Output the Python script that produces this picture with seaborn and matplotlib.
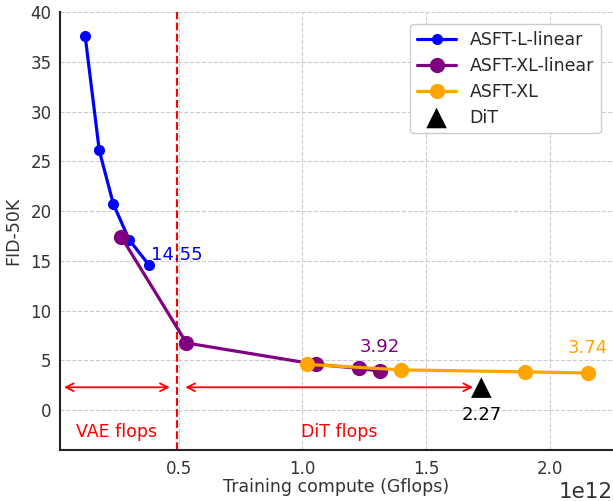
import numpy as np
import pandas as pd
import matplotlib
matplotlib.use("Agg")
import matplotlib.pyplot as plt
import seaborn as sns

# dati (x in flops, y = FID-50K)
l_lin_x = [0.123e12, 0.180e12, 0.237e12, 0.301e12, 0.382e12]
l_lin_y = [37.6, 26.1, 20.7, 17.1, 14.55]

xl_lin_x = [0.269e12, 0.532e12, 1.055e12, 1.229e12, 1.314e12]
xl_lin_y = [17.4, 6.75, 4.6, 4.2, 3.92]

xl_x = [1.018e12, 1.399e12, 1.900e12, 2.152e12]
xl_y = [4.6, 4.05, 3.85, 3.74]

dit_x = [1.722e12]
dit_y = [2.27]

vae_split = 0.495e12

sns.set_style("white")
plt.rcParams['font.family'] = ['DejaVu Sans']

fig = plt.figure(figsize=(6.13, 5.01), dpi=100)
ax = fig.add_axes([60 / 613, 51 / 501, 553 / 613, 438 / 501])

df_l = pd.DataFrame({"x": l_lin_x, "y": l_lin_y})
df_xll = pd.DataFrame({"x": xl_lin_x, "y": xl_lin_y})
df_xl = pd.DataFrame({"x": xl_x, "y": xl_y})
df_dit = pd.DataFrame({"x": dit_x, "y": dit_y})

sns.lineplot(data=df_l, x="x", y="y", ax=ax, color="blue", marker="o", markersize=8,
             markeredgewidth=0, linewidth=2.3, sort=False, label="ASFT-L-linear", zorder=3)
sns.lineplot(data=df_xll, x="x", y="y", ax=ax, color="purple", marker="o", markersize=11,
             markeredgewidth=0, linewidth=2.3, sort=False, label="ASFT-XL-linear", zorder=3)
sns.lineplot(data=df_xl, x="x", y="y", ax=ax, color="orange", marker="o", markersize=11,
             markeredgewidth=0, linewidth=2.3, sort=False, label="ASFT-XL", zorder=4)
sns.scatterplot(data=df_dit, x="x", y="y", ax=ax, color="black", marker="^", s=220,
                edgecolor="none", label="DiT", zorder=5)

ax.axvline(vae_split, color="red", linestyle="--", linewidth=1.5, zorder=2)

# frecce
ax.annotate("", xy=(0.476e12, 2.3), xytext=(0.026e12, 2.3),
            arrowprops=dict(arrowstyle="<->", color="red", lw=1.3, mutation_scale=14))
ax.annotate("", xy=(1.70e12, 2.3), xytext=(0.516e12, 2.3),
            arrowprops=dict(arrowstyle="<->", color="red", lw=1.3, mutation_scale=14))
ax.text(0.25e12, -2.2, "VAE flops", color="red", fontsize=12.5, ha="center", va="center")
ax.text(1.15e12, -2.2, "DiT flops", color="red", fontsize=12.5, ha="center", va="center")

# etichette valori
ax.text(l_lin_x[-1] + 0.005e12, l_lin_y[-1] + 1.0, "14.55", color="blue", fontsize=13,
        ha="left", va="center")
ax.text(xl_lin_x[-1], xl_lin_y[-1] + 2.4, "3.92", color="purple", fontsize=13,
        ha="center", va="center")
ax.text(xl_x[-1], xl_y[-1] + 2.5, "3.74", color="orange", fontsize=13,
        ha="center", va="center")
ax.text(dit_x[0], dit_y[0] - 2.8, "2.27", color="black", fontsize=13,
        ha="center", va="center")

ax.set_ylim(-4, 40)
ax.set_xlabel("Training compute (Gflops)", fontsize=12.5, color="#333333", labelpad=0)
ax.set_ylabel("FID-50K", fontsize=12.5, color="#333333", labelpad=6)
ax.xaxis.get_offset_text().set_fontsize(15.5)
ax.grid(True, linestyle="--", color="#cccccc", linewidth=0.8)
ax.tick_params(direction="in", labelsize=12, labelcolor="#333333", length=4, color="black")
ax.tick_params(axis="x", pad=7)
ax.tick_params(axis="y", pad=6)
ax.set_xticks([0.5e12, 1.0e12, 1.5e12, 2.0e12])
for s in ["top", "right"]:
    ax.spines[s].set_visible(False)
for s in ["left", "bottom"]:
    ax.spines[s].set_color("#222222")
    ax.spines[s].set_linewidth(1.5)

ax.legend(loc="upper right", fontsize=12.5, frameon=True, fancybox=True,
          edgecolor="#cccccc", framealpha=1, borderpad=0.4, handlelength=2.2,
          labelspacing=0.45, borderaxespad=0.7)

fig.savefig("out.png", dpi=100)
